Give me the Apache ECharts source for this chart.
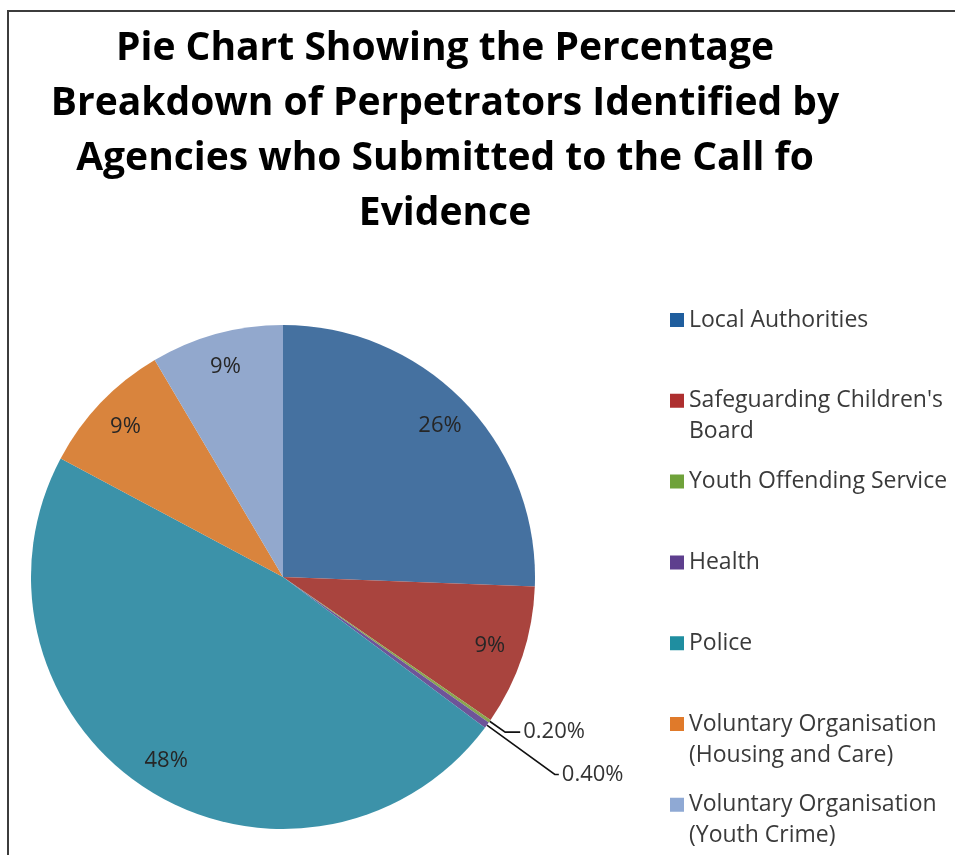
<!DOCTYPE html>
<html>
<head>
<meta charset="UTF-8">
<title>Perpetrators Identified by Agencies</title>
<script src="https://cdn.jsdelivr.net/npm/echarts@6/dist/echarts.min.js"></script>
<style>
    html, body { margin: 0; padding: 0; background: #ffffff; }
    #chart1 { width: 955px; height: 855px; }
</style>
</head>
<body>
<div id="chart1"></div>
<script type="text/javascript">
var chart1 = echarts.init(document.getElementById('chart1'));

// data (percent of perpetrators)
var categories = [
    'Local Authorities',
    "Safeguarding Children's Board",
    'Youth Offending Service',
    'Health',
    'Police',
    'Voluntary Organisation (Housing and Care)',
    'Voluntary Organisation (Youth Crime)'
];
// every legend entry gets two lines so the marker can sit on the first one
var legendLabels = [
    'Local Authorities\n ',
    "Safeguarding Children's\nBoard",
    'Youth Offending Service\n ',
    'Health\n ',
    'Police\n ',
    'Voluntary Organisation\n(Housing and Care)',
    'Voluntary Organisation\n(Youth Crime)'
];
var percentValues = [25.6, 9.0, 0.2, 0.4, 47.6, 8.7, 8.5];
var sliceLabels = ['26%', '9%', '0.20%', '0.40%', '48%', '9%', '9%'];

var titleText = 'Pie Chart Showing the Percentage\nBreakdown of Perpetrators Identified by\nAgencies who Submitted to the Call fo\nEvidence';

// colours
var sliceColors = ['#4571a0', '#a9443e', '#8aa64f', '#6e5499', '#3c92a9', '#d9843d', '#92a8cd'];
var legendColors = ['#1f5e9e', '#ae2f2f', '#6fa23a', '#5e3f8e', '#1f8ea0', '#e07a2a', '#8fa9d4'];
var fontFamily = '"Open Sans", Lato, sans-serif';

var isSmall = function (i) { return percentValues[i] < 1; };
// leader line lengths for the two thin slices
var leaderLen = { 2: [19, 15], 3: [84, 4] };

var center = [283, 577];
var outerR = 252;

var mainData = categories.map(function (name, i) {
    var item = {
        name: name,
        value: percentValues[i],
        itemStyle: { color: sliceColors[i] },
        label: { show: isSmall(i) },
        labelLine: { show: isSmall(i) }
    };
    if (leaderLen[i]) {
        item.labelLine.length = leaderLen[i][0];
        item.labelLine.length2 = leaderLen[i][1];
    }
    return item;
});

// transparent ring, only used to put the big labels near the rim
var ringData = categories.map(function (name, i) {
    return {
        name: name,
        value: percentValues[i],
        label: { show: !isSmall(i) }
    };
});

var labelFormatter = function (p) { return sliceLabels[p.dataIndex]; };

// square marker placed level with the first text line (box is 14 x 62)
var legendIcon = 'path://M0,8.5H14V22.5H0Z M0,0L14,0 M0,62L14,62';

option = {
    backgroundColor: '#ffffff',
    animation: false,
    graphic: [
        {
            type: 'polyline',
            shape: { points: [[8, 855], [8, 11], [955, 11]] },
            style: { stroke: '#3c3c3c', lineWidth: 2, fill: null }
        },
        {
            type: 'text',
            x: 445,
            y: 21,
            style: {
                text: titleText,
                align: 'center',
                verticalAlign: 'top',
                fontFamily: fontFamily,
                fontWeight: 'bold',
                fontSize: 39,
                lineHeight: 55,
                fill: '#000000'
            }
        }
    ],
    legend: {
        orient: 'vertical',
        left: 670,
        top: 304.5,
        height: 600,
        padding: 0,
        icon: legendIcon,
        itemWidth: 14,
        itemHeight: 62,
        itemGap: 18.8,
        selectedMode: false,
        itemStyle: { borderWidth: 0 },
        data: categories.map(function (name, i) {
            return { name: name, itemStyle: { color: legendColors[i] } };
        }),
        formatter: function (name) { return legendLabels[categories.indexOf(name)]; },
        textStyle: {
            fontFamily: fontFamily,
            fontSize: 23,
            lineHeight: 31,
            color: '#3a3a3a'
        }
    },
    series: [
        {
            type: 'pie',
            name: 'share',
            center: center,
            radius: [0, outerR],
            startAngle: 90,
            clockwise: true,
            avoidLabelOverlap: false,
            silent: true,
            itemStyle: { borderWidth: 0 },
            label: {
                position: 'outside',
                formatter: labelFormatter,
                fontFamily: fontFamily,
                fontSize: 22,
                color: '#333333',
                distanceToLabelLine: 3
            },
            labelLine: {
                lineStyle: { color: '#111111', width: 1.6 }
            },
            data: mainData
        },
        {
            type: 'pie',
            name: 'labels',
            center: center,
            radius: [178, outerR],
            startAngle: 90,
            clockwise: true,
            avoidLabelOverlap: false,
            silent: true,
            itemStyle: { color: 'rgba(0,0,0,0)', borderWidth: 0 },
            label: {
                position: 'inside',
                formatter: labelFormatter,
                fontFamily: fontFamily,
                fontSize: 22,
                color: '#262626'
            },
            labelLine: { show: false },
            data: ringData
        }
    ]
};

chart1.setOption(option);
</script>
</body>
</html>
